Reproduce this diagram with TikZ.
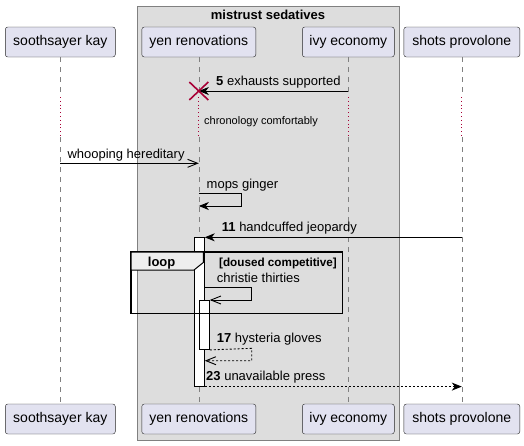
\documentclass[tikz,border=0pt]{standalone}
\usepackage{fontspec}
\setmainfont{Liberation Sans}
\usetikzlibrary{arrows.meta}
\definecolor{partfill}{HTML}{E2E2F0}
\definecolor{boxfill}{HTML}{DDDDDD}
\definecolor{tabfill}{HTML}{EEEEEE}
\definecolor{crimson}{HTML}{A80036}
\tikzset{
  actor/.style={draw=black!85, fill=partfill, rounded corners=2.5pt, minimum height=30pt, inner sep=0pt, font=\fontsize{14}{16}\selectfont},
  msg/.style={anchor=base west, inner sep=0pt, font=\fontsize{13}{15}\selectfont},
  life/.style={draw=gray, line width=0.6pt, dash pattern=on 5pt off 5pt},
  delayed/.style={draw=crimson, line width=0.8pt, dash pattern=on 0.8pt off 3pt},
  activ/.style={draw=black, fill=white, line width=0.9pt, minimum width=10pt, inner sep=0pt, anchor=north},
  filledhead/.style={line width=0.9pt, -{Stealth[length=10pt, width=8pt, inset=3pt]}},
  openhead/.style={line width=0.9pt, -{Straight Barb[length=10pt, width=8pt]}}
}
\begin{document}
\begin{tikzpicture}[x=1pt, y=-1pt]
\useasboundingbox (0,0) rectangle (524,445);
% grouping box
\draw[gray, fill=boxfill] (137.3,6.3) rectangle (398.7,440);
\node[anchor=base, inner sep=0pt, font=\fontsize{13}{15}\selectfont\bfseries] (boxtitle) at (268,19) {mistrust sedatives};
% participants
\node[actor, minimum width=110pt] (kayT) at (60.3,42) {soothsayer kay};
\node[actor, minimum width=114pt] (yenT) at (198.8,42) {yen renovations};
\node[actor, minimum width=92pt] (ivyT) at (348.3,42) {ivy economy};
\node[actor, minimum width=116pt] (shotsT) at (461.8,42) {shots provolone};
\node[actor, minimum width=110pt] (kayB) at (60.3,419) {soothsayer kay};
\node[actor, minimum width=114pt] (yenB) at (198.8,419) {yen renovations};
\node[actor, minimum width=92pt] (ivyB) at (348.3,419) {ivy economy};
\node[actor, minimum width=116pt] (shotsB) at (461.8,419) {shots provolone};
% lifelines
\foreach \p in {kay,yen,ivy,shots} {
  \draw[life] (\p T.south) -- (\p T.south |- 0,97);
  \draw[delayed] (\p T.south |- 0,97) -- (\p T.south |- 0,137);
  \draw[life] (\p T.south |- 0,137) -- (\p B.north);
}
% activations
\node[activ, minimum height=148.4pt] (act1) at (199.3,237.3) {};
\node[activ, minimum height=49pt] (act2) at (204.3,300) {};
% loop frame
\draw[line width=1.6pt] (131,252) rectangle (342.3,313.3);
\draw[fill=tabfill, line width=1pt] (131,252) -- (203.3,252) -- (203.3,262.5) -- (194,270) -- (131,270) -- cycle;
\node[anchor=base west, inner sep=0pt, font=\fontsize{13}{15}\selectfont\bfseries] (looplbl) at (147.7,266.5) {loop};
\node[anchor=base west, inner sep=0pt, font=\fontsize{11.7}{13}\selectfont\bfseries] (guard) at (219,266) {[doused competitive]};
% messages
\coordinate (m5a) at (ivyT.south |- 0,91);
\coordinate (m5b) at (yenT.south |- 0,91);
\draw[filledhead] (m5a) -- (m5b);
\node[msg] (m5) at (216,85) {\textbf{5} exhausts supported};
\node (kill) at (m5b) {};
\draw[crimson, line width=1.6pt] ([shift={(-9.5,-9)}]kill.center) -- ([shift={(9.5,9)}]kill.center);
\draw[crimson, line width=1.6pt] ([shift={(-9.5,9)}]kill.center) -- ([shift={(9.5,-9)}]kill.center);
\node[anchor=base west, inner sep=0pt, font=\fontsize{11}{13}\selectfont] (delaytxt) at (204,124) {chronology comfortably};
\draw[openhead] (kayT.south |- 0,163.3) -- (yenT.south |- 0,163.3);
\node[msg] (whoop) at (67.3,158) {whooping hereditary};
\draw[filledhead] (yenT.south |- 0,193.3) -- (241.7,193.3) -- (241.7,206) -- (yenT.south |- 0,206);
\node[msg] (mops) at (206.5,188) {mops ginger};
\draw[filledhead] (shotsT.south |- act1.north) -- (act1.north east);
\node[msg] (m11) at (221.7,231) {\textbf{11} handcuffed jeopardy};
\draw[openhead] (act1.east |- 0,287.7) -- (251.7,287.7) -- (251.7,300) -- (act2.north east);
\node[msg] (christie) at (216.7,282) {christie thirties};
\draw[openhead, dash pattern=on 2pt off 2pt] (act2.south east) -- (251.7,348.3) -- (251.7,360.7) -- (act1.east |- 0,360.7);
\node[msg] (m17) at (216.7,342) {\textbf{17} hysteria gloves};
\draw[filledhead, dash pattern=on 2pt off 2pt] (act1.south east) -- (shotsT.south |- act1.south);
\node[msg] (m23) at (206,380) {\textbf{23} unavailable press};
\end{tikzpicture}
\end{document}
